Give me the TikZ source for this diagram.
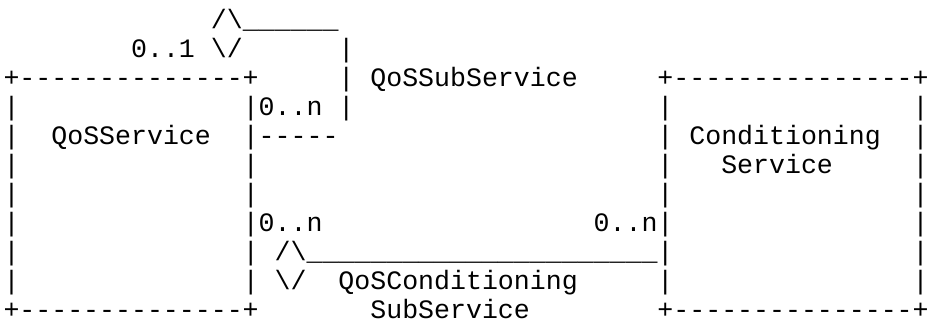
\documentclass[tikz,border=0pt]{standalone}
\usepackage{fontspec}
\setmonofont{Liberation Mono}
\tikzset{
  ascii/.style={anchor=base west, inner sep=0pt, outer sep=0pt,
    font=\ttfamily\fontsize{26.583pt}{29pt}\selectfont, text=black},
  asciiR/.style={ascii, anchor=base}
}
% #1 name, #2 column, #3 row, #4 text
\newcommand\asc[4]{\node[ascii] (#1) at ({3.5+15.95*#2},{28+29*#3}) {#4};}
% last column (57): narrow box centred on the cell
\newcommand\ascR[3]{\node[asciiR] (#1) at ({3.5+15.95*57.5},{28+29*#2}) {\makebox[6pt]{#3}};}
\newcommand\bs{\textbackslash}
\begin{document}
\begin{tikzpicture}[x=1pt,y=-1pt]
\useasboundingbox (0,0) rectangle (928,324);
% row 0
\asc{aggtop}{13}{0}{/\bs\_\_\_\_\_\_}
% row 1
\asc{mult01}{8}{1}{0..1}
\asc{aggbot}{13}{1}{\bs/}
\asc{vA1}{21}{1}{|}
% row 2
\asc{lboxtop}{0}{2}{+--------------+}
\asc{vA2}{21}{2}{|}
\asc{subsvc}{23}{2}{QoSSubService}
\asc{rboxtop}{41}{2}{+---------------}
\ascR{rboxtopR}{2}{+}
% row 3
\asc{l3a}{0}{3}{|}
\asc{m0n1}{15}{3}{|0..n}
\asc{vA3}{21}{3}{|}
\asc{r3a}{41}{3}{|}
\ascR{r3b}{3}{|}
% row 4
\asc{l4a}{0}{4}{|}
\asc{qossvc}{3}{4}{QoSService}
\asc{hA4}{15}{4}{|-----}
\asc{r4a}{41}{4}{|}
\asc{cond}{43}{4}{Conditioning}
\ascR{r4b}{4}{|}
% row 5
\asc{l5a}{0}{5}{|}
\asc{l5b}{15}{5}{|}
\asc{r5a}{41}{5}{|}
\asc{svc}{45}{5}{Service}
\ascR{r5b}{5}{|}
% row 6
\asc{l6a}{0}{6}{|}
\asc{l6b}{15}{6}{|}
\asc{r6a}{41}{6}{|}
\ascR{r6b}{6}{|}
% row 7
\asc{l7a}{0}{7}{|}
\asc{m0n2}{15}{7}{|0..n}
\asc{m0n3}{37}{7}{0..n|}
\ascR{r7b}{7}{|}
% row 8
\asc{l8a}{0}{8}{|}
\asc{l8b}{15}{8}{|}
\asc{agg2top}{17}{8}{/\bs\_\_\_\_\_\_\_\_\_\_\_\_\_\_\_\_\_\_\_\_\_\_|}
\ascR{r8b}{8}{|}
% row 9
\asc{l9a}{0}{9}{|}
\asc{l9b}{15}{9}{|}
\asc{agg2bot}{17}{9}{\bs/}
\asc{condsub}{21}{9}{QoSConditioning}
\asc{r9a}{41}{9}{|}
\ascR{r9b}{9}{|}
% row 10
\asc{lboxbot}{0}{10}{+--------------+}
\asc{condsub2}{23}{10}{SubService}
\asc{rboxbot}{41}{10}{+---------------}
\ascR{rboxbotR}{10}{+}
\end{tikzpicture}
\end{document}
